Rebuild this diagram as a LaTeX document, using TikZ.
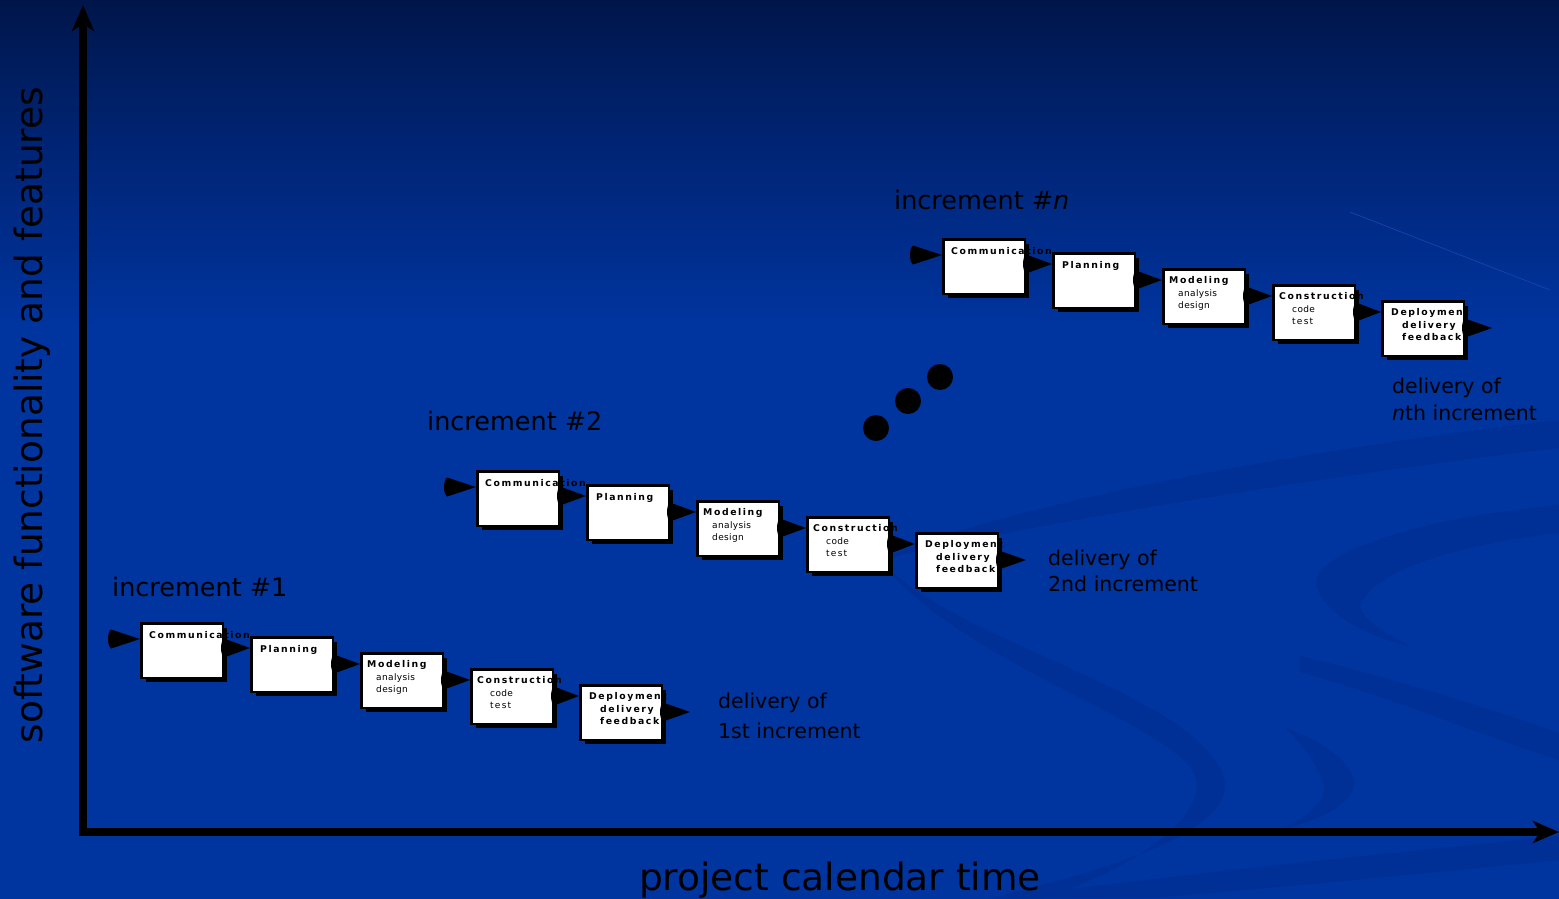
\documentclass[tikz,border=0pt]{standalone}
\usepackage{fontspec}
\usepackage{graphicx}
\setmainfont{DejaVu Sans}
\newfontfamily\stagettl{DejaVu Sans}[LetterSpace=17]
\newfontfamily\stagesub{DejaVu Sans}[LetterSpace=4]
\usetikzlibrary{calc,shadows,arrows.meta}

\definecolor{bgtop}{RGB}{0,22,74}
\definecolor{bgmid}{RGB}{0,36,116}
\definecolor{bgbot}{RGB}{0,52,158}
\definecolor{swirl}{RGB}{0,48,150}
\definecolor{glint}{RGB}{20,66,170}
% the path is fitted to the 25bp--75bp band of the shading
\pgfdeclareverticalshading{slidebg}{100bp}{color(0bp)=(bgbot); color(57bp)=(bgbot); color(67bp)=(bgmid); color(75bp)=(bgtop); color(100bp)=(bgtop)}

\tikzset{
  stagebox/.style={draw=black, line width=2.5pt, fill=white, anchor=north west,
    minimum width=81.5pt, minimum height=54.5pt, inner sep=0pt,
    drop shadow={shadow xshift=4.5pt, shadow yshift=-4.5pt, fill=black, opacity=1}},
  ttl/.style={anchor=base west, inner sep=0pt, text=black,
    font=\stagettl\bfseries\fontsize{9.3}{11}\selectfont},
  sub/.style={anchor=base west, inner sep=0pt, text=black,
    font=\stagesub\fontsize{9}{11}\selectfont},
  axisline/.style={draw=black, line width=8pt, line cap=rect,
    -{Stealth[length=26pt,width=22pt,inset=7pt]}},
  axislabel/.style={inner sep=0pt, text=black, font=\fontsize{37.5}{44}\selectfont},
  inclabel/.style={anchor=base west, inner sep=0pt, text=black, font=\fontsize{25.5}{30}\selectfont},
  dellabel/.style={anchor=base west, inner sep=0pt, text=black, font=\fontsize{20.5}{25}\selectfont},
  dot/.style={circle, fill=black, inner sep=0pt, minimum size=26pt},
}

% black wedge: base centred on #1, point at #2
\newcommand\stagearrow[2]{%
  \fill[black] ($(#1)+(0,-9.5)$) -- (#2) -- ($(#1)+(0,9.5)$)
    .. controls +(-4,-3) and +(-4,3) .. ($(#1)+(0,-9.5)$) -- cycle;
}
% wedge from the right side of box #1 into box #2
\newcommand\stagelink[2]{%
  \coordinate (#2-tip) at ($(#2.north west)+(0,12)$);
  \coordinate (#2-base) at (#1.east |- #2-tip);
  \stagearrow{#2-base}{#2-tip}
}
% one increment: five stage boxes, tag #1, top-left corner (#2,#3)
\newcommand\stages[3]{%
  \node[stagebox] (com#1) at (#2,#3) {};
  \node[stagebox] (pla#1) at (#2+110,#3+14) {};
  \node[stagebox] (mod#1) at (#2+220,#3+30) {};
  \node[stagebox] (con#1) at (#2+330,#3+46) {};
  \node[stagebox] (dep#1) at (#2+439,#3+62) {};
  \node[ttl] (com#1-a) at ($(com#1.north west)+(9,16)$) {Communication};
  \node[ttl] (pla#1-a) at ($(pla#1.north west)+(10,16)$) {Planning};
  \node[ttl] (mod#1-a) at ($(mod#1.north west)+(7,15)$) {Modeling};
  \node[sub] (mod#1-b) at ($(mod#1.north west)+(16,28)$) {analysis};
  \node[sub] (mod#1-c) at ($(mod#1.north west)+(16,40)$) {design};
  \node[ttl] (con#1-a) at ($(con#1.north west)+(7,15)$) {Construction};
  \node[sub] (con#1-b) at ($(con#1.north west)+(20,28)$) {code};
  \node[sub] (con#1-c) at ($(con#1.north west)+(20,40)$) {\addfontfeature{LetterSpace=14}test};
  \node[ttl] (dep#1-a) at ($(dep#1.north west)+(10,15)$) {Deployment};
  \node[ttl] (dep#1-b) at ($(dep#1.north west)+(21,28)$) {delivery};
  \node[ttl] (dep#1-c) at ($(dep#1.north west)+(21,40)$) {feedback};
  \coordinate (com#1-in) at ($(com#1.north west)+(-29,17)$);
  \coordinate (com#1-tip) at (com#1.west |- com#1-in);
  \stagearrow{com#1-in}{com#1-tip}
  \stagelink{com#1}{pla#1}
  \stagelink{pla#1}{mod#1}
  \stagelink{mod#1}{con#1}
  \stagelink{con#1}{dep#1}
  \coordinate (dep#1-tip) at ($(dep#1.north east)+(27,28)$);
  \coordinate (dep#1-out) at (dep#1.east |- dep#1-tip);
  \stagearrow{dep#1-out}{dep#1-tip}
}

\begin{document}
\begin{tikzpicture}[x=1pt, y=-1pt]
  \useasboundingbox (0,0) rectangle (1559,898);
  % slide background
  \shade[shading=slidebg] (0,0) rectangle (1559,898);
  \begin{scope}
    \clip (0,0) rectangle (1559,898);
    \fill[swirl] (880,560) .. controls (1000,505) and (1300,450) .. (1559,420)
      -- (1559,448) .. controls (1300,478) and (1000,530) .. (880,560) -- cycle;
    \fill[swirl] (880,560) .. controls (950,640) and (1185,690) .. (1222,772)
      .. controls (1245,825) and (1130,865) .. (990,898) -- (1045,898)
      .. controls (1150,862) and (1205,812) .. (1196,778)
      .. controls (1180,725) and (960,665) .. (880,560) -- cycle;
    \fill[swirl] (1559,505) .. controls (1400,520) and (1300,560) .. (1318,590)
      .. controls (1330,620) and (1380,640) .. (1410,646)
      .. controls (1370,626) and (1352,610) .. (1364,598)
      .. controls (1380,572) and (1450,545) .. (1559,533) -- cycle;
    \fill[swirl] (1300,656) .. controls (1400,680) and (1500,712) .. (1559,733)
      -- (1559,760) .. controls (1480,735) and (1400,700) .. (1300,672) -- cycle;
    \fill[swirl] (1285,728) .. controls (1335,745) and (1365,775) .. (1350,795)
      .. controls (1338,812) and (1310,822) .. (1285,828)
      .. controls (1315,812) and (1330,795) .. (1322,780)
      .. controls (1315,760) and (1300,742) .. (1285,728) -- cycle;
    \fill[swirl] (1000,898) .. controls (1200,872) and (1400,852) .. (1559,836)
      -- (1559,860) .. controls (1400,876) and (1250,890) .. (1150,898) -- cycle;
    \draw[glint, line width=0.8pt] (1350,212) -- (1550,290);
  \end{scope}

  % axes
  \coordinate (origin) at (83,832);
  \coordinate (ytip) at (83,5);
  \coordinate (xtip) at (1559,832);
  \draw[axisline] (origin) -- (ytip);
  \draw[axisline] (origin) -- (xtip);
  \node[axislabel, anchor=base] (xlab) at (840,890) {project calendar time};
  \node[axislabel, anchor=base, rotate=90] (ylab) at (42,415) {software functionality and features};

  % increment captions
  \node[inclabel] (inc1) at (112,596) {increment \#1};
  \node[inclabel] (inc2) at (427,430) {increment \#2};
  \node[inclabel] (incn) at (894,209) {increment \#\emph{n}};

  % the three increments
  \stages{1}{140}{622}
  \stages{2}{476}{470}
  \stages{n}{942}{238}

  % delivery notes
  \node[dellabel] (del1a) at (718,708) {delivery of};
  \node[dellabel] (del1b) at (718,738) {1st increment};
  \node[dellabel] (del2a) at (1048,565) {delivery of};
  \node[dellabel] (del2b) at (1048,591) {2nd increment};
  \node[dellabel] (delna) at (1392,393) {delivery of};
  \node[dellabel] (delnb) at (1392,420) {\emph{n}th increment};

  % ellipsis between increments
  \node[dot] (dot1) at (876,428) {};
  \node[dot] (dot2) at (908,401) {};
  \node[dot] (dot3) at (940,377) {};
\end{tikzpicture}
\end{document}
